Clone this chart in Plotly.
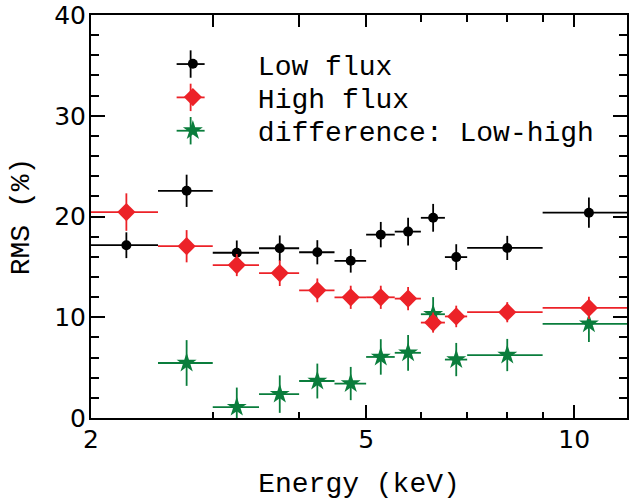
import math
import plotly.graph_objects as go

# ---- data ----
energy = [2.25, 2.75, 3.25, 3.75, 4.25, 4.75, 5.25, 5.75, 6.25, 6.75, 8.0, 10.5]
energy_halfwidth = [0.25, 0.25, 0.25, 0.25, 0.25, 0.25, 0.25, 0.25, 0.25, 0.25, 1.0, 1.5]

low_flux = [17.15, 22.55, 16.4, 16.85, 16.45, 15.6, 18.2, 18.5, 19.87, 15.97, 16.88, 20.38]
low_flux_err = [1.28, 1.6, 1.22, 1.27, 1.2, 1.17, 1.26, 1.37, 1.38, 1.28, 1.2, 1.5]

high_flux = [20.44, 17.05, 15.18, 14.38, 12.67, 11.98, 11.98, 11.85, 9.47, 10.08, 10.5, 10.93]
high_flux_err = [1.86, 1.6, 1.1, 1.28, 1.18, 1.15, 1.15, 1.15, 1.0, 1.07, 1.0, 1.1]

diff_energy = [2.75, 3.25, 3.75, 4.25, 4.75, 5.25, 5.75, 6.25, 6.75, 8.0, 10.5]
diff_halfwidth = [0.25, 0.25, 0.25, 0.25, 0.25, 0.25, 0.25, 0.25, 0.25, 1.0, 1.5]
diff_rms = [5.46, 1.08, 2.37, 3.67, 3.42, 6.06, 6.47, 10.3, 5.8, 6.25, 9.35]
diff_err = [2.27, 1.94, 1.86, 1.73, 1.65, 1.76, 1.78, 1.7, 1.65, 1.6, 1.8]

x_tick_vals = [2, 5, 10]
x_tick_text = ["2", "5", "10"]
x_minor_vals = [3, 4, 6, 7, 8, 9]
top_major_vals = [3, 4, 5, 10]
top_minor_vals = [6, 7, 8, 9]
y_tick_vals = [0, 10, 20, 30, 40]

names = ["Low flux", "High flux", "difference: Low-high"]
BLACK = "#000000"
RED = "#ec2228"
GREEN = "#0a7d3c"

MONO = "Liberation Mono"
SANS = "DejaVu Sans"

x_range = [math.log10(2), math.log10(11.92)]

# plot-area geometry (pixels) used to place the legend keys
W, H = 538.0, 405.0
L, T = 91.0, 13.0
legend_rows_px = [62.3, 95.8, 129.3]
legend_sym_x_px = 191.0
legend_left = ((legend_sym_x_px - 63) - L) / W

fig = go.Figure()

def add_series(x, xerr, y, yerr, name, color, symbol, size, legend_id):
    fig.add_trace(go.Scatter(
        x=x, y=y, mode="markers", name=name, legend=legend_id,
        marker=dict(color=color, symbol=symbol, size=size, line=dict(width=0)),
        error_x=dict(type="data", array=xerr, arrayminus=xerr, color=color,
                     thickness=1.8, width=0),
        error_y=dict(type="data", array=yerr, arrayminus=yerr, color=color,
                     thickness=1.8, width=0),
    ))

add_series(energy, energy_halfwidth, low_flux, low_flux_err, names[0], BLACK, "circle", 10, "legend")
add_series(diff_energy, diff_halfwidth, diff_rms, diff_err, names[2], GREEN, "star", 15, "legend3")
add_series(energy, energy_halfwidth, high_flux, high_flux_err, names[1], RED, "diamond", 14, "legend2")

# invisible trace to activate the top tick axis
fig.add_trace(go.Scatter(x=energy, y=low_flux, xaxis="x2", yaxis="y", mode="markers",
                         marker=dict(opacity=0), showlegend=False, hoverinfo="skip"))

# legend key crosses (decoration around legend symbols)
shapes = []
for cy, col in zip(legend_rows_px, [BLACK, RED, GREEN]):
    xp = (legend_sym_x_px - L) / W
    yp = 1 - (cy - T) / H
    shapes.append(dict(type="line", xref="paper", yref="paper", xsizemode="pixel",
                       xanchor=xp, x0=-14, x1=14, y0=yp, y1=yp,
                       line=dict(color=col, width=1.8), layer="above"))
    shapes.append(dict(type="line", xref="paper", yref="paper", ysizemode="pixel",
                       yanchor=yp, y0=-13.7, y1=13.7, x0=xp, x1=xp,
                       line=dict(color=col, width=1.8), layer="above"))

def legend_box(cy):
    return dict(x=legend_left, y=1 - (cy - T) / H,
                xanchor="left", yanchor="middle",
                bgcolor="rgba(0,0,0,0)", itemwidth=120, borderwidth=0,
                font=dict(family=MONO, size=28, color="black"), itemsizing="trace")

fig.update_layout(
    width=630, height=501,
    margin=dict(l=91, r=1, t=13, b=83),
    paper_bgcolor="white", plot_bgcolor="white",
    showlegend=True,
    legend=legend_box(legend_rows_px[0]),
    legend2=legend_box(legend_rows_px[1]),
    legend3=legend_box(legend_rows_px[2]),
    shapes=shapes,
    xaxis=dict(type="log", range=x_range, tickmode="array", tickvals=x_tick_vals,
               ticktext=x_tick_text, ticks="inside", ticklen=13, tickwidth=1.5,
               tickcolor="black", showline=True, linecolor="black", linewidth=2,
               mirror=True, showgrid=False, zeroline=False,
               tickfont=dict(family=SANS, size=25, color="black"),
               ticklabelstandoff=-2, ticklabeloverflow="allow",
               minor=dict(tickmode="array", tickvals=x_minor_vals, ticks="inside",
                          ticklen=6, tickwidth=1.5, tickcolor="black", showgrid=False),
               title=dict(text="Energy (keV)", font=dict(family=MONO, size=28, color="black"),
                          standoff=19)),
    xaxis2=dict(type="log", range=x_range, overlaying="x", side="top", anchor="y",
                tickmode="array", tickvals=top_major_vals, ticks="inside", ticklen=12,
                tickwidth=1.5, tickcolor="black", showticklabels=False, showline=False,
                showgrid=False, zeroline=False,
                minor=dict(tickmode="array", tickvals=top_minor_vals, ticks="inside",
                           ticklen=7, tickwidth=1.5, tickcolor="black", showgrid=False)),
    yaxis=dict(range=[0, 40], tickmode="array", tickvals=y_tick_vals, ticks="inside",
               ticklen=14, tickwidth=1.5, tickcolor="black", showline=True,
               linecolor="black", linewidth=2, mirror="ticks", showgrid=False,
               zeroline=False, tickfont=dict(family=SANS, size=25, color="black"),
               ticklabelstandoff=-2, ticklabeloverflow="allow",
               minor=dict(dtick=2, ticks="inside", ticklen=8, tickwidth=1.5,
                          tickcolor="black", showgrid=False),
               title=dict(text="RMS (%)", font=dict(family=MONO, size=28, color="black"),
                          standoff=16)),
)

fig.write_html("out.html")
